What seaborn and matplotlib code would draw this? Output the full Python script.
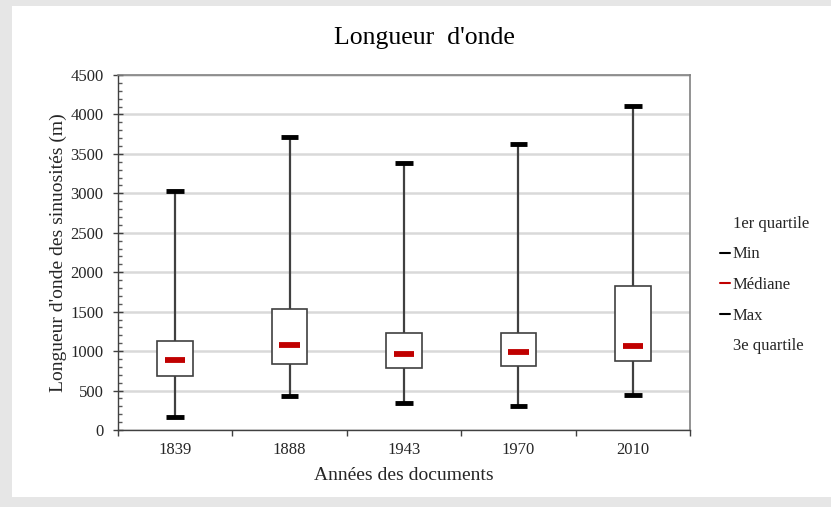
import numpy as np
import pandas as pd
import matplotlib
matplotlib.use("Agg")
import matplotlib.pyplot as plt
from matplotlib.lines import Line2D
from matplotlib.patches import Rectangle
from matplotlib.ticker import MultipleLocator, FixedLocator
import seaborn as sns

# ---- data ----
years = ["1839", "1888", "1943", "1970", "2010"]
mins = [170, 425, 340, 305, 445]
q1 = [690, 840, 790, 815, 875]
medians = [890, 1075, 960, 995, 1065]
q3 = [1125, 1535, 1230, 1230, 1830]
maxs = [3030, 3710, 3390, 3625, 4110]

sns.set_theme(style="white")
plt.rcParams['font.family'] = ['Liberation Serif', 'DejaVu Serif']

# five-number summaries as a long table (percentiles reproduce the stats exactly)
rows = []
for i, y in enumerate(years):
    for v in (mins[i], q1[i], medians[i], q3[i], maxs[i]):
        rows.append({"Année": y, "Valeur": v})
df = pd.DataFrame(rows)

fig = plt.figure(figsize=(8.31, 5.07), dpi=100)
fig.patch.set_facecolor("#e6e6e6")
fig.patches.append(Rectangle((12 / 831, 10 / 507), 1 - 12 / 831, 1 - 16 / 507,
                             transform=fig.transFigure, facecolor="white",
                             edgecolor="none", zorder=-10))

ax = fig.add_axes([118 / 831, 77 / 507, (690 - 118) / 831, (430 - 75) / 507])
ax.set_facecolor("white")

sns.boxplot(data=df, x="Année", y="Valeur", order=years, whis=(0, 100), width=0.31,
            color="white", linecolor="#404040", linewidth=1.2, fliersize=0,
            boxprops=dict(facecolor="white", edgecolor="#404040", linewidth=1.2),
            whiskerprops=dict(color="#404040", linewidth=1.6),
            capprops=dict(color="black", linewidth=3.5, solid_capstyle="butt"),
            medianprops=dict(color="#c00000", linewidth=4.2, solid_capstyle="butt"),
            ax=ax, zorder=3)

# shorten median bars to look like the reference (narrower than the box)
for cont in ax.containers:
    if hasattr(cont, "medians"):
        for m in cont.medians:
            xd = np.asarray(m.get_xdata(), dtype=float)
            c = xd.mean()
            m.set_xdata(c + (xd - c) * 0.58)
            m.set_zorder(5)
        for cap in cont.caps:
            cap.set_zorder(5)

ax.set_ylim(0, 4500)
ax.set_xlim(-0.5, len(years) - 0.5)
ax.yaxis.set_major_locator(MultipleLocator(500))
ax.yaxis.set_minor_locator(MultipleLocator(100))
ax.grid(axis="y", which="major", color="#d9d9d9", linewidth=1.8, zorder=0)
ax.set_axisbelow(True)

ax.xaxis.set_minor_locator(FixedLocator(np.arange(-0.5, len(years), 1.0)))
ax.tick_params(axis="x", which="major", length=0, pad=9, labelsize=12, colors="#262626")
ax.tick_params(axis="x", which="minor", length=4.5, width=1, color="#404040", direction="out", bottom=True)
ax.tick_params(axis="y", which="major", length=7, width=1, color="#404040", direction="inout",
               left=True, labelsize=12, labelcolor="#262626", pad=7)
ax.tick_params(axis="y", which="minor", length=3, width=1, color="#595959", direction="in", left=True)

for s in ax.spines.values():
    s.set_visible(True)
    s.set_color("#808080")
    s.set_linewidth(1.2)
ax.spines["left"].set_color("#404040")
ax.spines["bottom"].set_color("#404040")
ax.spines["left"].set_linewidth(1.0)
ax.spines["bottom"].set_linewidth(1.0)

ax.set_xlabel("Années des documents", fontsize=14, color="#262626")
ax.set_ylabel("Longueur d'onde des sinuosités (m)", fontsize=14, color="#262626")
ax.xaxis.set_label_coords(0.5, -0.105)
ax.yaxis.set_label_coords(-0.090, 0.5)
fig.text(424 / 831, 1 - 38 / 507, "Longueur  d'onde", ha="center", va="center",
         fontsize=18.5, color="black")

handles = [
    Line2D([], [], color="none"),
    Line2D([], [], color="black", linewidth=1.5),
    Line2D([], [], color="#c00000", linewidth=1.5),
    Line2D([], [], color="black", linewidth=1.5),
    Line2D([], [], color="none"),
]
labels = ["1er quartile", "Min", "Médiane", "Max", "3e quartile"]
leg = fig.legend(handles, labels, loc="center left", bbox_to_anchor=(713.5 / 831, 1 - 285 / 507),
                 frameon=False, fontsize=12, handlelength=0.6, handletextpad=0.15,
                 labelspacing=0.88, borderaxespad=0)
for t in leg.get_texts():
    t.set_color("#262626")

fig.savefig("out.png", dpi=100, facecolor=fig.get_facecolor())
